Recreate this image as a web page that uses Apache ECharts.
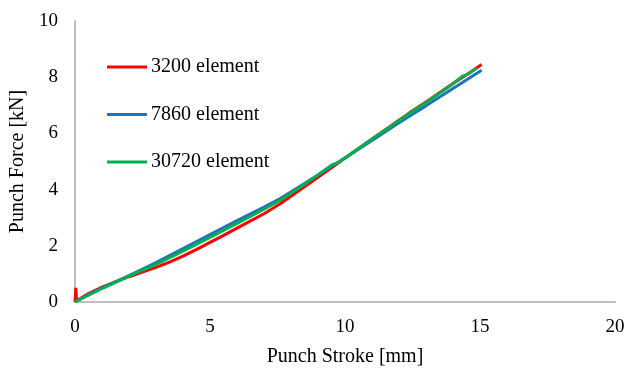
<!DOCTYPE html>
<html>
<head>
<meta charset="utf-8">
<script src="https://cdn.jsdelivr.net/npm/echarts@6/dist/echarts.min.js"></script>
<style>
  html, body { margin: 0; padding: 0; background: #fff; }
  #chart { width: 630px; height: 368px; }
</style>
</head>
<body>
<div id="chart"></div>
<script>
// Punch force vs. punch stroke for three mesh densities
const seriesNames = ['3200 element', '7860 element', '30720 element'];
const seriesColors = ['#FF0000', '#1F72BE', '#00B050'];

// [stroke mm, force kN]
const data3200 = [
  [0, 0], [0.03, 0.5], [0.06, 0.04], [0.5, 0.3], [1, 0.53], [2, 0.9], [3, 1.23],
  [3.5, 1.42], [4, 1.63], [4.6, 1.92], [5, 2.12], [5.4, 2.32], [6, 2.63], [7, 3.14],
  [7.6, 3.5], [8.5, 4.1], [9.5, 4.78], [10.2, 5.26], [11, 5.8], [12, 6.47],
  [12.4, 6.74], [13, 7.12], [14, 7.78], [14.6, 8.15], [15.06, 8.45]
];
const data7860 = [
  [0, 0], [0.5, 0.26], [1, 0.5], [2, 0.94], [3, 1.4], [4, 1.9], [5, 2.4],
  [6, 2.9], [7, 3.38], [7.6, 3.68], [8.5, 4.22], [9.5, 4.82], [10.2, 5.25],
  [11, 5.75], [12, 6.38], [12.4, 6.62], [13, 6.98], [14, 7.6], [15.06, 8.25]
];
const data30720 = [
  [0, 0], [0.5, 0.24], [1, 0.48], [2, 0.92], [3, 1.34], [4, 1.81],
  [5, 2.3], [6, 2.8], [7, 3.3], [7.6, 3.62], [8.5, 4.18], [9.2, 4.66], [9.55, 4.9],
  [9.75, 4.96], [10.2, 5.26], [11, 5.8], [12, 6.45], [12.4, 6.72], [13, 7.1],
  [14, 7.76], [14.35, 8.04], [14.55, 8.1], [14.88, 8.33]
];

const xTicks = { min: 0, max: 20, interval: 5 };
const yTicks = { min: 0, max: 10, interval: 2 };

const font = '"Liberation Serif", "Times New Roman", serif';
const chart = echarts.init(document.getElementById('chart'));

const lineSeries = [data3200, data7860, data30720].map((d, i) => ({
  name: seriesNames[i],
  type: 'line',
  data: d,
  showSymbol: false,
  symbol: 'none',
  smooth: false,
  lineStyle: { width: 3, color: seriesColors[i] },
  itemStyle: { color: seriesColors[i] },
  z: 2 + (i === 2 ? 1 : 0)
}));

chart.setOption({
  animation: false,
  backgroundColor: '#ffffff',
  grid: { left: 75, right: 15, top: 21, bottom: 66, containLabel: false, outerBoundsMode: 'none' },
  legend: {
    orient: 'vertical',
    left: 102,
    top: 52,
    itemGap: 27.5,
    itemWidth: 40,
    itemHeight: 3,
    icon: 'rect',
    textStyle: { fontFamily: font, fontSize: 20, color: '#000', padding: [0, 0, 0, -1] },
    data: seriesNames
  },
  xAxis: {
    type: 'value',
    min: xTicks.min, max: xTicks.max, interval: xTicks.interval,
    name: 'Punch Stroke [mm]',
    nameLocation: 'middle',
    nameGap: 45,
    nameTextStyle: { fontFamily: font, fontSize: 20, color: '#000' },
    axisLine: { show: true, lineStyle: { color: '#BFBFBF', width: 2 } },
    axisTick: { show: false },
    splitLine: { show: false },
    axisLabel: { fontFamily: font, fontSize: 19, color: '#000', margin: 16 }
  },
  yAxis: {
    type: 'value',
    min: yTicks.min, max: yTicks.max, interval: yTicks.interval,
    name: 'Punch Force [kN]',
    nameLocation: 'middle',
    nameGap: 43,
    nameTextStyle: { fontFamily: font, fontSize: 20, color: '#000' },
    axisLine: { show: true, lineStyle: { color: '#BFBFBF', width: 2 } },
    axisTick: { show: false },
    splitLine: { show: false },
    axisLabel: { fontFamily: font, fontSize: 19, color: '#000', margin: 17 }
  },
  series: lineSeries
});
</script>
</body>
</html>
